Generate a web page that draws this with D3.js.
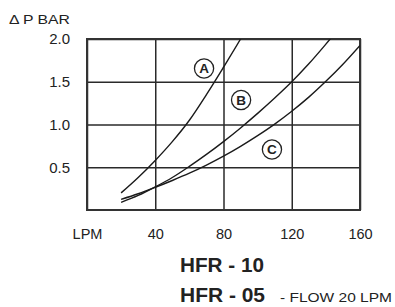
<!DOCTYPE html>
<html><head><meta charset="utf-8">
<script src="https://cdn.jsdelivr.net/npm/d3@7"></script>
<style>
html,body{margin:0;padding:0;background:#fff;}
svg{display:block;font-family:"Liberation Sans",Arial,sans-serif;}
</style></head>
<body><svg id="c" width="395" height="307"></svg>
<script>
const flowLPM = [20, 30, 40, 50, 60, 70, 80, 90, 100, 110, 120, 130, 140, 150, 160];
const curveA = [0.2, 0.38, 0.58, 0.8, 1.05, 1.35, 1.67, 2.0, 2.36];
const curveB = [0.09, 0.17, 0.27, 0.38, 0.51, 0.65, 0.8, 0.96, 1.13, 1.31, 1.5, 1.71, 1.94, 2.18];
const curveC = [0.125, 0.19, 0.265, 0.345, 0.43, 0.525, 0.63, 0.745, 0.87, 1.005, 1.155, 1.32, 1.505, 1.705, 1.925];
const xTicks = [0, 40, 80, 120, 160];
const xTickLabels = ["LPM", "40", "80", "120", "160"];
const yTicks = [0.5, 1.0, 1.5, 2.0];
const yTickLabels = ["0.5", "1.0", "1.5", "2.0"];
const curveNames = ["A", "B", "C"];
const labelLPM = [68.6, 90.3, 108.4];
const labelBar = [1.655, 1.287, 0.708];

const svg = d3.select("#c");
const L = 87, R = 360, T = 39, B = 210;
const x = d3.scaleLinear().domain([0, 160]).range([L, R]);
const y = d3.scaleLinear().domain([0, 2]).range([B, T]);

const gx = svg.append("g").attr("transform", `translate(0,${B})`)
  .call(d3.axisBottom(x).tickValues(xTicks).tickSize(-(B - T)).tickFormat((d, i) => xTickLabels[i]).tickPadding(19));
gx.select(".domain").remove();
gx.selectAll(".tick line").attr("stroke", "#2a2a2a").attr("stroke-width", 1.5);
gx.selectAll(".tick text").attr("font-size", 14.5).attr("fill", "#222").attr("font-family", "Liberation Sans, Arial, sans-serif");

const gy = svg.append("g").attr("transform", `translate(${L},0)`)
  .call(d3.axisLeft(y).tickValues(yTicks).tickSize(-(R - L)).tickFormat((d, i) => yTickLabels[i]).tickPadding(17));
gy.select(".domain").remove();
gy.selectAll(".tick line").attr("stroke", "#2a2a2a").attr("stroke-width", 1.5);
gy.selectAll(".tick text").attr("font-size", 15).attr("fill", "#222").attr("font-family", "Liberation Sans, Arial, sans-serif");

svg.append("rect").attr("x", x(0)).attr("y", y(2)).attr("width", x(160) - x(0)).attr("height", y(0) - y(2))
  .attr("fill", "none").attr("stroke", "#333").attr("stroke-width", 2);

svg.append("clipPath").attr("id", "clp").append("rect")
  .attr("x", x(0)).attr("y", y(2)).attr("width", x(160) - x(0)).attr("height", y(0) - y(2));
const line = d3.line().x(d => x(d[0])).y(d => y(d[1])).curve(d3.curveCatmullRom.alpha(0.5));
[curveA, curveB, curveC].forEach(vals => {
  const pts = vals.map((v, i) => [flowLPM[i], v]);
  svg.append("path").attr("d", line(pts)).attr("fill", "none").attr("stroke", "#1a1a1a")
    .attr("stroke-width", 1.4).attr("clip-path", "url(#clp)");
});

curveNames.forEach((n, i) => {
  const g = svg.append("g").attr("transform", `translate(${x(labelLPM[i])},${y(labelBar[i])})`);
  g.append("circle").attr("r", 9.6).attr("fill", "#fff").attr("stroke", "#222").attr("stroke-width", 1.3);
  g.append("text").attr("text-anchor", "middle").attr("dy", "0.36em").attr("font-size", 13.5)
    .attr("font-weight", "bold").attr("fill", "#222").text(n);
});

svg.append("text").attr("x", 9).attr("y", 24).attr("font-size", 13).attr("fill", "#222")
  .attr("textLength", 61).attr("lengthAdjust", "spacingAndGlyphs").text("Δ P BAR");
svg.append("text").attr("x", 180).attr("y", 272).attr("font-size", 20).attr("font-weight", "bold").attr("fill", "#222")
  .attr("textLength", 84).attr("lengthAdjust", "spacingAndGlyphs").text("HFR - 10");
svg.append("text").attr("x", 180).attr("y", 302).attr("font-size", 20).attr("font-weight", "bold").attr("fill", "#222")
  .attr("textLength", 85).attr("lengthAdjust", "spacingAndGlyphs").text("HFR - 05");
svg.append("text").attr("x", 280).attr("y", 302).attr("font-size", 13.5).attr("fill", "#222")
  .attr("textLength", 112).attr("lengthAdjust", "spacingAndGlyphs").text("- FLOW 20 LPM");
</script></body></html>
